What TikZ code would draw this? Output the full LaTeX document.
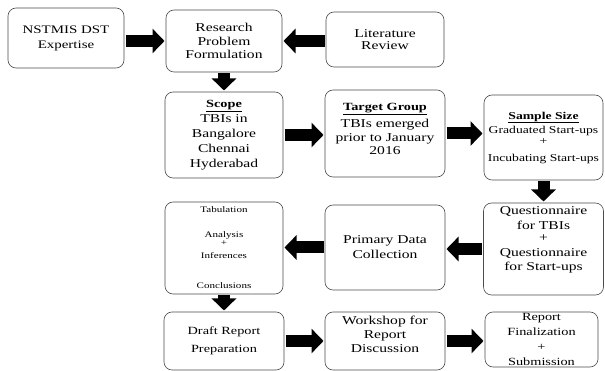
\documentclass[tikz,border=0pt]{standalone}
\usepackage{fontspec}
\setmainfont{Liberation Serif}[FakeStretch=1.3]
\usetikzlibrary{arrows.meta}
\begin{document}
\begin{tikzpicture}[x=1pt,y=-1pt,inner sep=1pt,outer sep=0pt,
stepbox/.style={draw=black!70,line width=0.6pt,rounded corners=8pt,fill=white,align=center,minimum width=118pt},
bigarrow/.style={line width=12pt,-{Triangle[width=24pt,length=12pt]},shorten >=1.5pt,shorten <=1.5pt}]
\useasboundingbox (0,0) rectangle (605,371);
% row 1
\draw (66,38) node[stepbox,minimum width=116pt,minimum height=60pt,font=\fontsize{11.5}{15}\selectfont] (nstmis) {NSTMIS DST\\Expertise};
\draw (224,41) node[stepbox,minimum width=116pt,minimum height=62pt,font=\fontsize{12}{13.5}\selectfont] (research) {Research\\Problem\\Formulation};
\draw (385,39.5) node[stepbox,minimum height=55pt,font=\fontsize{12}{12}\selectfont] (lit) {Literature\\Review};
% row 2
\draw (224,135) node[stepbox,minimum height=86pt,font=\fontsize{12}{15}\selectfont] (scope) {{\fontsize{11}{15}\selectfont\underline{\textbf{Scope}}}\\TBIs in\\Bangalore\\Chennai\\Hyderabad};
\draw (385,133.5) node[stepbox,minimum width=120pt,minimum height=87pt,font=\fontsize{12}{13.5}\selectfont] (target) {{\fontsize{11}{13.5}\selectfont\underline{\textbf{Target Group}}}\\[4pt]TBIs emerged\\prior to January\\2016\\[-4pt]\mbox{}};
\draw (543.5,137.5) node[stepbox,minimum width=119pt,minimum height=85pt,font=\fontsize{10.5}{14}\selectfont] (sample) {\underline{\textbf{Sample Size}}\\Graduated Start-ups\\[-3pt]+\\[3pt]Incubating Start-ups};
% row 3
\draw (224,248) node[stepbox,minimum height=92pt,font=\fontsize{8.5}{8}\selectfont] (tab) {Tabulation\\[17pt]Analysis\\+\\[5pt]Inferences\\[22pt]Conclusions};
\draw (385,247.5) node[stepbox,minimum width=120pt,minimum height=85pt,font=\fontsize{12}{15}\selectfont] (primary) {Primary Data\\Collection};
\draw (543.5,249) node[stepbox,minimum width=120pt,minimum height=92pt,font=\fontsize{12}{14.5}\selectfont] (quest) {Questionnaire\\for TBIs\\[-2pt]+\\Questionnaire\\for Start-ups\\[5.5pt]\mbox{}};
% row 4
\draw (224,341) node[stepbox,minimum width=120pt,minimum height=58pt,font=\fontsize{11}{18}\selectfont] (draft) {Draft Report\\Preparation};
\draw (385,341) node[stepbox,minimum width=120pt,minimum height=58pt,font=\fontsize{12}{14}\selectfont] (workshop) {Workshop for\\Report\\Discussion\\[0pt]\mbox{}};
\draw (541.5,339.5) node[stepbox,minimum width=113pt,minimum height=55pt,inner sep=0pt,font=\fontsize{11}{15}\selectfont] (report) {Report\\Finalization\\+\\Submission};
% arrows
\draw[bigarrow] (nstmis.east |- research) -- (research);
\draw[bigarrow] (lit.west |- research) -- (research);
\draw[bigarrow] (research) -- (scope);
\draw[bigarrow] (scope) -- (scope -| target.west);
\draw[bigarrow] (target) -- (target -| sample.west);
\draw[bigarrow] (sample) -- (quest);
\draw[bigarrow] (quest) -- (quest -| primary.east);
\draw[bigarrow] (primary) -- (primary -| tab.east);
\draw[bigarrow] (tab) -- (draft);
\draw[bigarrow] (draft) -- (draft -| workshop.west);
\draw[bigarrow] (workshop) -- (workshop -| report.west);
\end{tikzpicture}
\end{document}
